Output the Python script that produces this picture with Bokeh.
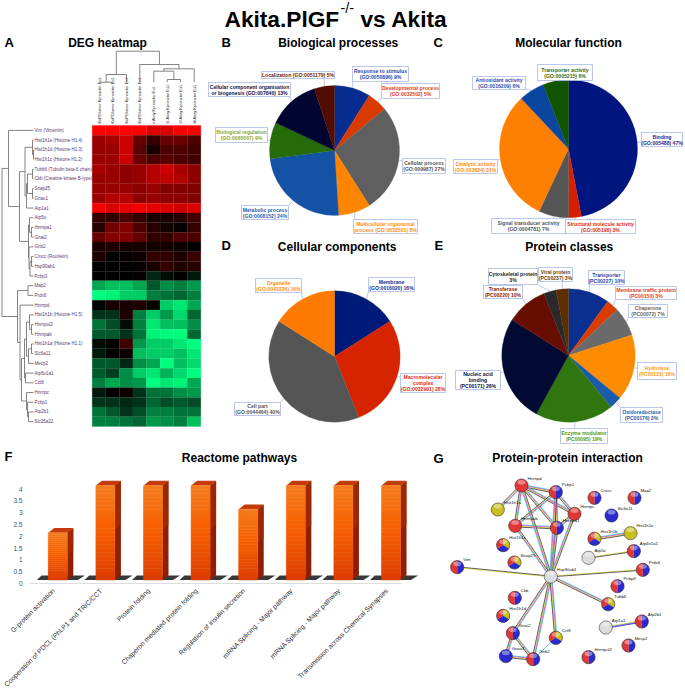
import math
from bokeh.plotting import figure
from bokeh.layouts import column, row
from bokeh.models import ColumnDataSource, LinearColorMapper, FixedTicker, Range1d
from bokeh.core.properties import value
from bokeh.embed import file_html
from bokeh.resources import INLINE

# ---------- DATA ----------
genes = ["Vim (Vimentin)", "Hist1h1e (Histone H1.4)", "Hist1h1d (Histone H1.3)", "Hist1h1c (Histone H1.2)",
         "Tubb6 (Tubulin beta-6 chain)", "Ckb (Creatine kinase B-type)", "Snap25", "Gnao1", "Atp1a1", "Atp5o",
         "Hnrnpa1", "Gnai2", "Gnb2", "Crocc (Rootletin)", "Hsp90ab1", "Pcbp3", "Map2", "Prdx6", "Hnrnpd",
         "Hist1h1b (Histone H1.5)", "Hnrnpul2", "Hnrnpab", "Hist1h1a (Histone H1.1)", "Slc6a11", "Mecp2",
         "Atp6v1a1", "Cct8", "Hnrnpc", "Pcbp1", "Atp2b1", "Slc25a22"]
samples = ["KoPGlumor Kpronctor Eu1", "KoPGlumor Kpronctor Eu1", "KoPGlumor Kpronctor Eu1", "KoPGlumor Kpronctor Eu1",
           "t-Akay Kpronctor Eu1", "t1 Akay Kpronctor Eu1", "t3 Akay Kpronctor Eu1", "t4 Akay Kpronctor Eu1"]
heat = [
 [1.0,1.0,1.0,1.0,.85,.85,.95,.95],
 [.6,.65,.8,.4,.2,.4,.4,.3],
 [.6,.6,.8,.35,.1,.3,.3,.25],
 [.6,.6,.8,.4,.3,.35,.3,.25],
 [.65,.6,.55,.6,.7,.8,.65,.55],
 [.6,.6,.55,.6,.7,.75,.7,.55],
 [.6,.6,.6,.55,.6,.5,.5,.5],
 [.6,.7,.7,.55,.6,.55,.55,.5],
 [.95,.85,.9,.95,.9,.85,.8,.85],
 [.2,.2,.3,.2,.1,.1,.15,.25],
 [.15,.45,.5,.3,.15,.08,.02,.2],
 [.4,.5,.5,.4,.2,.2,.3,.3],
 [.1,.12,.1,.1,.08,.08,.06,.0],
 [.12,.0,.03,.06,.2,.18,.12,.22],
 [0,0,0,.03,.1,.2,.12,.15],
 [0,0,0,.03,-.15,-.05,0,-.1],
 [-.65,-.75,-.75,-.65,-.35,-.55,-.5,-.6],
 [-1,-.95,-.8,-.8,-.5,-.45,-.4,-.5],
 [-.02,.1,.1,.12,-.02,-.8,-.9,-.65],
 [-.2,-.2,.12,-.5,-.8,-.6,-.85,-.4],
 [-.45,-.3,-.05,-.5,-.9,-.75,-.75,-.55],
 [-.35,-.35,-.2,-.45,-.95,-.98,-1,-.4],
 [-.05,0,.25,-.6,-.8,-.8,-.9,-1],
 [-.1,0,.05,-.75,-.8,-.8,-.75,-.9],
 [-.35,-.35,-.15,-.55,-.65,-1,-.75,-.85],
 [-.35,-.25,-.55,-.8,-.9,-.7,-.85,-1],
 [-.5,-.65,-.55,-.6,-1,-.9,-.95,-.65],
 [-.1,0,.06,-.2,-.45,-.45,-.55,-.6],
 [-.2,-.2,-.15,-.2,-.4,-.3,-.35,-.3],
 [-.45,-.35,-.2,-.3,-.5,-.5,-.45,-.45],
 [-.5,-.5,-.45,-.4,-.6,-.55,-.5,-.75],
]
# dendrograms: (merge height, child, child); integers are leaves
row_tree = (1.5,
    (8, 0,
        (19,
            (24.5,
                (32, 1, (33, 2, 3)),
                (26, (27, (32, 4, 5), (32, 6, 7)), 8)),
            (28,
                (29, 9, (31, 10, 11)),
                (28.5, 12, (29.5, (31, 13, 14), 15))))),
    (17,
        (27.5, 16, 17),
        (19.5, 18,
            (21,
                (24, (26, (29, 19, (31, 20, 21)), (28, (31, 22, 23), 24)), (25, 25, 26)),
                (26, 27, (27, 28, (28, 29, 30)))))))
col_tree = (50.7,
    (74, (81.7, 0, 1), 2),
    (64, 3, (68.3, (70.7, 4, (79, 5, 6)), 7)))

bp_labels = ["Response to stimulus\n(GO:0050896) 9%", "Developmental process\n(GO:0032502) 5%", "Cellular process\n(GO:009987) 27%",
             "Multicellular organismal\nprocess (GO:0032501) 8%", "Metabolic process\n(GO:0008152) 24%", "Biological regulation\n(GO:0065007) 9%",
             "Cellular component organisation\nor biogenesis (GO:007840) 13%", "Localization (GO:0051179) 5%"]
bp_values = [9, 5, 27, 8, 24, 9, 13, 5]
bp_colors = ["#062c8f", "#d93a00", "#5f5f5f", "#ff8400", "#1352a4", "#266b0a", "#010530", "#520c00"]
bp_text = ["#2b3fa8", "#e0401a", "#555555", "#ff8c10", "#1f5cb0", "#7fa83a", "#101040", "#6b1a0a"]

mf_labels = ["Binding\n(GO:005488) 47%", "Structural molecule activity\n(GO:005198) 3%", "Signal transducer activity\n(GO:0004781) 7%",
             "Catalytic activity\n(GO:003824) 31%", "Antioxidant activity\n(GO:0016209) 6%", "Transporter activity\n(GO:0005215) 6%"]
mf_values = [47, 3, 7, 31, 6, 6]
mf_colors = ["#001580", "#d42000", "#555555", "#ff7f00", "#0a45a0", "#115400"]
mf_text = ["#1b2a8c", "#e02a10", "#555555", "#ff8c10", "#1f4fb0", "#2a6a12"]

cc_labels = ["Membrane\n(GO:0016020) 16%", "Macromolecular\ncomplex\n(GO:0032991) 28%", "Cell part\n(GO:0044464) 40%", "Organelle\n(GO:0043226) 16%"]
cc_values = [16, 28, 40, 16]
cc_colors = ["#001a7a", "#d62400", "#555555", "#ff7a00"]
cc_text = ["#1b2a8c", "#e02a10", "#555555", "#ff8c10"]

pc_labels = ["Transporter\n(PC00227) 10%", "Membrane traffic protein\n(PC00150) 3%", "Chaperone\n(PC00072) 7%", "Hydrolase\n(PC00121) 16%",
             "Oxidoreductase\n(PC00176) 3%", "Enzyme modulator\n(PC00095) 19%", "Nucleic acid\nbinding\n(PC00171) 26%",
             "Transferase\n(PC00220) 10%", "Cytoskeletal protein\n3%", "Viral protein\n(PC00237) 3%"]
pc_values = [10, 3, 7, 16, 3, 19, 26, 10, 3, 3]
pc_colors = ["#0b2f90", "#d83c00", "#6a6a6a", "#ff8c00", "#1a5cab", "#2f760f", "#000a33", "#680e00", "#2a2a2a", "#5c2e00"]
pc_text = ["#2b3fa8", "#e0401a", "#666666", "#ff9a10", "#2060b0", "#4a9a1a", "#101040", "#8a1a0a", "#222222", "#6b3a08"]

pathways = ["G-protein activation", "Cooperation of PDCL (PhLP1 and TRiC/CCT", "Protein folding", "Chaperon mediated protein folding",
            "Regulation of insulin secretion", "mRNA Splicing - Major pathway", "mRNA Splicing - Major pathway",
            "Transmission across Chemical Synapses"]
pathway_values = [2, 4, 4, 4, 3, 4, 4, 4]
y_ticks = [0, 0.5, 1, 1.5, 2, 2.5, 3, 3.5, 4]

proteins = ["Hnrnpd", "Pcbp1", "Hist1h1a", "Crocc", "Map2", "Slc6a11", "Hnrnpc", "Hnrnpab", "Hnrnpa1", "Hist1h1c", "Hist1h1b",
            "Hist1h1e", "Atp6v1a1", "Atp5o", "Snap25", "Vim", "Hsp90ab1", "Prdx6", "Pcbp3", "Tubb6", "Ckb", "Hist1h1d",
            "Gnai2", "Cct8", "Atp1a1", "Atp2b1", "Mecp2", "Hnrnpul2", "Gnao1", "Gnb2"]
protein_kinds = ["r", "br", "y", "br", "br", "b", "r", "r", "br", "ybr", "ybr", "y", "br", "w", "ybr", "br", "w", "br", "br", "ybr",
                 "br", "ybr", "br", "ybr", "w", "br", "br", "br", "b", "br"]
edges_strong = [("Hnrnpd","Pcbp1"),("Hnrnpd","Hnrnpc"),("Hnrnpd","Hnrnpab"),("Hnrnpd","Hnrnpa1"),("Pcbp1","Hnrnpc"),
                ("Pcbp1","Hnrnpab"),("Pcbp1","Hnrnpa1"),("Hnrnpc","Hnrnpa1"),("Hnrnpab","Hnrnpa1"),
                ("Hsp90ab1","Hnrnpd"),("Hsp90ab1","Pcbp1"),("Hsp90ab1","Hnrnpab"),("Hsp90ab1","Hnrnpa1"),("Hsp90ab1","Hnrnpc"),
                ("Hsp90ab1","Tubb6"),("Hsp90ab1","Gnai2"),("Hsp90ab1","Gnb2"),("Hsp90ab1","Cct8"),
                ("Hnrnpd","Hist1h1a"),("Hist1h1b","Hist1h1e"),("Gnai2","Gnao1"),("Gnai2","Gnb2"),("Gnao1","Gnb2")]
edges_light = [("Hsp90ab1","Vim"),("Hsp90ab1","Prdx6"),("Atp5o","Atp6v1a1")]
edges_blue = [("Atp1a1","Atp2b1")]
edges_cyan = [("Gnb2","Cct8")]

# ---------- LAYOUT (reference pixel positions) ----------
FONT = value("Liberation Sans")
TOP_H, W, H = 465, 685, 689
F_W = 430

p = figure(width=W, height=TOP_H, x_range=Range1d(0, W), y_range=Range1d(TOP_H, 0), output_backend="svg",
           toolbar_location=None, min_border=0, outline_line_color=None)
p.axis.visible = False
p.grid.visible = False

def put(fig, x, y, t, size, color="#000000", style="normal", align="center", baseline="middle", angle=0.0):
    fig.text(x=[x], y=[y], text=[t], text_font=FONT, text_font_size=f"{size}px", text_color=color,
             text_font_style=style, text_align=align, text_baseline=baseline, angle=angle)

# main title
put(p, 224, 18.5, "Akita.PlGF", 22.7, style="bold", align="left", baseline="alphabetic")
put(p, 340, 7.5, "-/-", 14.5, align="left")
put(p, 360, 18.5, "vs Akita", 22.7, style="bold", align="left", baseline="alphabetic")

for t, x, y in [("DEG heatmap", 107, 42), ("Biological processes", 337.7, 42), ("Molecular function", 568, 42),
                ("Cellular components", 336.7, 246), ("Protein classes", 568.7, 246), ("Reactome pathways", 239, 457),
                ("Protein-protein interaction", 567, 457.5)]:
    put(p, x, y, t, 12, style="bold")
for t, x, y in [("A", 4, 41.5), ("B", 221, 41.5), ("C", 433, 41.5), ("D", 221, 245), ("E", 434, 245), ("F", 4, 456), ("G", 433, 458)]:
    put(p, x, y, t, 13, style="bold", align="left")

# heatmap
HX, HY, CW, RH = 91.7, 125.0, 13.58, 9.71
pal = []
for i in range(256):
    t = abs(i - 127.5) / 127.5
    pal.append("#%02x0000" % round(255 * t) if i > 127 else "#00%02x%02x" % (round(255 * t), round(127 * t)))
xs, ys, vs = [], [], []
for r, vals in enumerate(heat):
    for c, v in enumerate(vals):
        xs.append(HX + CW * (c + .5)); ys.append(HY + RH * (r + .5)); vs.append(v)
mapper = LinearColorMapper(palette=pal, low=-1, high=1)
p.rect(x="x", y="y", width=CW, height=RH, source=ColumnDataSource(dict(x=xs, y=ys, v=vs)),
       fill_color={"field": "v", "transform": mapper}, line_color={"field": "v", "transform": mapper}, line_width=.2)
p.line([HX, HX + 8 * CW], [HY, HY], line_color="#ff5050", line_width=.6)

leaf_y = [HY + RH * (r + .5) for r in range(len(genes))]
for g, y in zip(genes, leaf_y):
    put(p, 34, y, g, 4.5, color="#5d3a6b", align="left")
col_x = [99, 112.3, 126, 139.3, 153.3, 166.7, 180, 193.7]
for s, x in zip(samples, col_x):
    put(p, x, 123, s, 3.9, color="#222222", align="left", angle=math.pi / 2)

def tree(node, pos, end):
    """Returns the leaf-axis centre of a node and its bracket segments as (h0, a0, h1, a1)."""
    if isinstance(node, int):
        return pos[node], end, []
    h, l, r = node
    al, hl, sl = tree(l, pos, end)
    ar, hr, sr = tree(r, pos, end)
    segs = sl + sr + [(h, al, h, ar), (h, al, hl, al), (h, ar, hr, ar)]
    return (al + ar) / 2, h, segs

_, _, segs = tree(row_tree, leaf_y, 33)
p.segment([s[0] for s in segs], [s[1] for s in segs], [s[2] for s in segs], [s[3] for s in segs], line_color="#666666", line_width=.8)
_, _, segs = tree(col_tree, col_x, 81.7)
p.segment([s[1] for s in segs], [s[0] for s in segs], [s[3] for s in segs], [s[2] for s in segs], line_color="#666666", line_width=.8)

# pies
def pie(cx, cy, r, vals, colors, labels, textcols, boxes):
    tot = sum(vals); cum = 0
    BOX = "#a9b9e4"
    for v, col, lab, tc, b in zip(vals, colors, labels, textcols, boxes):
        a0 = math.pi / 2 - 2 * math.pi * cum / tot
        a1 = math.pi / 2 - 2 * math.pi * (cum + v) / tot
        am = (a0 + a1) / 2
        cum += v
        p.wedge(x=[cx], y=[cy], radius=r, radius_units="screen", start_angle=a0, end_angle=a1, direction="clock",
                fill_color=col, line_color=col, line_width=.3)
        ex, ey = cx + (r + .5) * math.cos(am), cy - (r + .5) * math.sin(am)
        bx, by = min(max(ex, b[0]), b[1]), min(max(ey, b[2]), b[3])
        p.segment([ex], [ey], [bx], [by], line_color=BOX, line_width=.8)
        p.quad(left=[b[0]], right=[b[1]], top=[b[2]], bottom=[b[3]], fill_color="#ffffff", line_color=BOX, line_width=.8)
        lines = lab.split("\n")
        my = (b[2] + b[3]) / 2
        for i, ln in enumerate(lines):
            put(p, (b[0] + b[1]) / 2, my + (i - (len(lines) - 1) / 2) * 6.0, ln, 5.1, color=tc, style="bold")

pie(334, 150, 65, bp_values, bp_colors, bp_labels, bp_text,
    [(352,408,66,81), (381,439,83,98), (402,445,158,173), (353,417,219,233), (241,288,205,219), (215,267,127,142), (208,290,82,96), (261,334,71,78)])
pie(568, 148.3, 69, mf_values, mf_colors, mf_labels, mf_text,
    [(641,682,132,146), (565,635,219,233), (491,565,218,233), (453,497,159,173), (472,525,76,89), (537,592,64,80)])
pie(334, 356, 65.7, cc_values, cc_colors, cc_labels, cc_text,
    [(368,414,277,291), (400,445,373,392), (234,280,402,415), (255,301,278,292)])
pie(568, 355, 66.7, pc_values, pc_colors, pc_labels, pc_text,
    [(588,624,270,284), (615,676,286,299), (628,667,304,317), (637,676,362,379), (620,662,407,422), (560,607,428,443),
     (455,500,370,389), (483,522,285,298), (488,537,268,284), (538,572,267,281)])

# ---------- F: bar chart ----------
X0, DX, PY = 57.3, 47.6, 23.6
LEFT, BOTTOM = 28, 106
FH = H - TOP_H
LABEL_SHIFT = 0.09   # the reference's labels end a little left of each bar's centre
f = figure(width=F_W, height=FH, output_backend="svg", toolbar_location=None, outline_line_color=None,
           x_range=Range1d(-X0 / DX, (F_W - X0) / DX), y_range=Range1d(-BOTTOM / PY, (FH - BOTTOM) / PY),
           min_border=0)
f.grid.visible = False
f.yaxis.fixed_location = (LEFT - X0) / DX
f.xaxis.fixed_location = 0
f.yaxis.ticker = FixedTicker(ticks=y_ticks)
f.yaxis.major_label_overrides = {t: ("%g" % t) for t in y_ticks}
f.yaxis.axis_line_color = None
f.yaxis.major_tick_line_color = None
f.yaxis.minor_tick_line_color = None
f.yaxis.major_label_standoff = 0
f.yaxis.major_label_text_font = "Liberation Sans"
f.yaxis.major_label_text_font_size = "6.5px"
f.yaxis.major_label_text_color = "#33556f"
x_ticks = [i - LABEL_SHIFT for i in range(len(pathways))]
f.xaxis.ticker = FixedTicker(ticks=x_ticks)
f.xaxis.major_label_overrides = dict(zip(x_ticks, pathways))
f.xaxis.major_label_orientation = math.pi / 4
f.xaxis.major_label_text_font = "Liberation Sans"
f.xaxis.major_label_text_font_size = "6.8px"
f.xaxis.major_label_text_color = "#333333"
f.xaxis.major_label_standoff = 0
f.xaxis.major_tick_line_color = None
f.xaxis.minor_tick_line_color = None
f.xaxis.axis_line_color = "#dddddd"
f.xaxis.bounds = (-0.6, 7.22)

HW, DEPX, DEPY, LIFT = .2, .126, .2, .15
def mix(a, b, t):
    return "#" + "".join("%02x" % round(a[i] + (b[i] - a[i]) * t) for i in range(3))
STOPS = [(0, (244,124,30)), (.45, (247,96,0)), (1, (220,60,0))]
def grad(t):
    for (t0, c0), (t1, c1) in zip(STOPS, STOPS[1:]):
        if t <= t1:
            return mix(c0, c1, (t - t0) / (t1 - t0))
    return mix(STOPS[-1][1], STOPS[-1][1], 0)
for i, v in enumerate(pathway_values):
    top = v + LIFT
    # floor shadow
    f.patch([i - .44, i - .34, i + .57, i + .42], [LIFT, LIFT + .19, LIFT + .19, LIFT], fill_color="#222222", line_color=None, fill_alpha=.9)
    # side face and top face
    f.patch([i + HW, i + HW + DEPX, i + HW + DEPX, i + HW], [LIFT, LIFT + DEPY, top + DEPY, top], fill_color="#8e1f00", line_color=None)
    f.patch([i + HW, i + HW + DEPX, i + HW + DEPX, i + HW], [top, top + DEPY, top * .55 + DEPY, top * .55], fill_color="#a52a00", line_color=None, fill_alpha=.7)
    f.patch([i - HW, i - HW + DEPX, i + HW + DEPX, i + HW], [top, top + DEPY, top + DEPY, top], fill_color="#c43a0a", line_color=None)
    # front face gradient
    n = 24
    lev = [LIFT + v * k / n for k in range(n + 1)]
    cols = [grad(1 - (k + .5) / n) for k in range(n)]
    f.quad(left=i - HW, right=i + HW, bottom=lev[:-1], top=lev[1:], fill_color=cols, line_color=cols, line_width=.5)

# ---------- G: network ----------
g = figure(width=W - F_W, height=FH, x_range=Range1d(F_W, W), y_range=Range1d(H, TOP_H), output_backend="svg",
           toolbar_location=None, min_border=0, outline_line_color=None)
g.axis.visible = False
g.grid.visible = False

node_px = [(183,135),(286,155),(112,207),(402,172),(522,172),(453,225),(342,220),(164,256),(289,262),(128,314),(402,295),(510,278),
           (520,332),(384,352),(162,366),(-10,380),(271,408),(547,388),(471,437),(443,491),(163,472),(128,526),(157,578),(286,592),
           (436,561),(544,543),(504,615),(384,650),(136,647),(218,656)]
pos = {n: (460 + a / 3, 440 + b / 3) for n, (a, b) in zip(proteins, node_px)}

def edge(a, b, cols, gap=.75):
    (x0, y0), (x1, y1) = pos[a], pos[b]
    L = math.hypot(x1 - x0, y1 - y0)
    nx, ny = -(y1 - y0) / L, (x1 - x0) / L
    for k, c in enumerate(cols):
        o = (k - (len(cols) - 1) / 2) * gap
        g.line([x0 + nx * o, x1 + nx * o], [y0 + ny * o, y1 + ny * o], line_color=c, line_width=.85)

for a, b in edges_strong:
    edge(a, b, ["#29c6e0", "#e040d0", "#d8d840", "#444444"])
for a, b in edges_light:
    edge(a, b, ["#d8d840", "#444444"])
for a, b in edges_blue:
    edge(a, b, ["#d8d840", "#6a6ae0", "#3030d0"])
for a, b in edges_cyan:
    edge(a, b, ["#50b8e0"])

KIND = {"r": "#e03636", "b": "#2a2ad0", "y": "#c9bf1e", "w": "#dcdcdc"}
R = 6.6
for n, k in zip(proteins, protein_kinds):
    x, y = pos[n]
    sl = len(k)
    for j, ch in enumerate(k):
        a0 = math.pi / 2 - 2 * math.pi * j / sl
        a1 = math.pi / 2 - 2 * math.pi * (j + 1) / sl
        col = KIND[ch]
        if sl == 1:
            g.circle(x=[x], y=[y], radius=R, radius_units="screen", fill_color=col, line_color=None)
        else:
            g.wedge(x=[x], y=[y], radius=R, radius_units="screen", start_angle=a0, end_angle=a1, direction="clock",
                    fill_color=col, line_color=col, line_width=.2)
    g.circle(x=[x], y=[y], radius=R, radius_units="screen", fill_color=None, line_color="#333333", line_width=.7, line_alpha=.8)
    g.ellipse(x=[x], y=[y - R * .5], width=R * 1.2, height=R * .7, fill_color="#ffffff", fill_alpha=.4, line_color=None)
    put(g, x + 6, y - 7.4, n, 4.3, color="#111111", align="left")

page = column(p, row(f, g, spacing=0), spacing=0)
open("out.html", "w").write(file_html(page, INLINE))
